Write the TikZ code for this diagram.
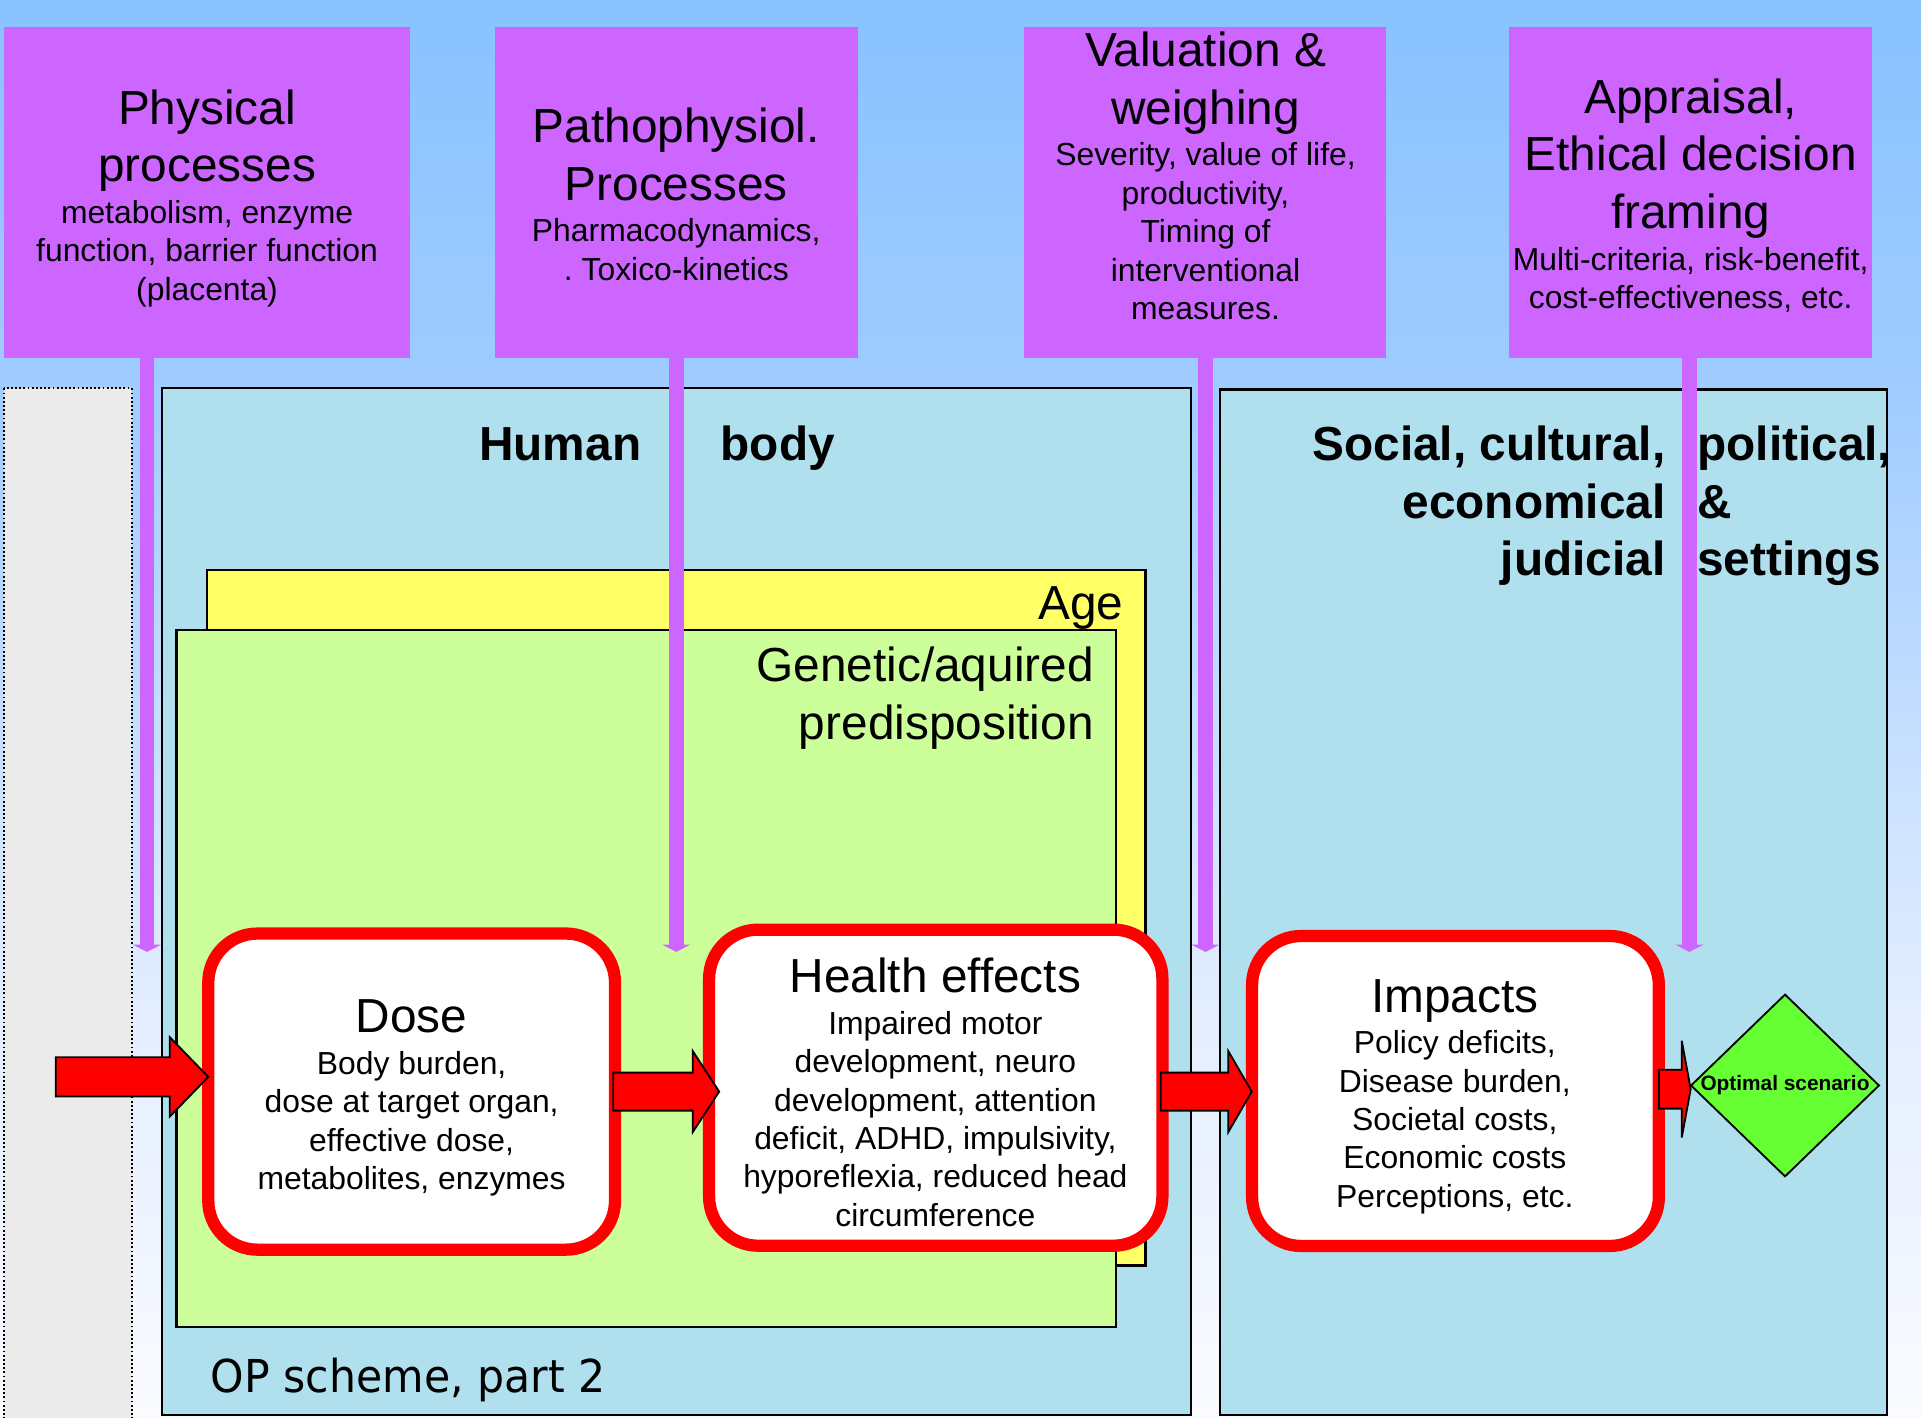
\documentclass[tikz,border=0pt]{standalone}
\usepackage{fontspec}
\setmainfont{Liberation Sans}
\newfontfamily\opfont[FakeStretch=0.94]{DejaVu Sans}
\usetikzlibrary{arrows.meta,shapes.geometric}

\definecolor{bgA}{RGB}{136,194,255}
\definecolor{bgB}{RGB}{160,204,255}
\definecolor{bgC}{RGB}{226,237,255}
\definecolor{bgD}{RGB}{250,251,255}
\definecolor{purp}{RGB}{204,102,255}
\definecolor{skyfill}{RGB}{176,224,238}
\definecolor{agefill}{RGB}{255,255,102}
\definecolor{genfill}{RGB}{204,255,153}
\definecolor{sidegray}{RGB}{235,235,235}
\definecolor{optgreen}{RGB}{102,255,51}

% large and small text, with fixed natural word spaces of the font in use
\newcommand\titlef{\fontsize{39}{47}\selectfont\spaceskip=\fontdimen2\font\xspaceskip=\fontdimen2\font\relax}
\newcommand\bodyf{\fontsize{26}{31.3}\selectfont\spaceskip=\fontdimen2\font\xspaceskip=\fontdimen2\font\relax}
% block arrow: left x, head base x, tip x, centre y, shaft half height, head half height
\newcommand\redarrow[6]{%
  \draw[redblk] (#1,#4-#5) -- (#2,#4-#5) -- (#2,#4-#6) -- (#3,#4)
    -- (#2,#4+#6) -- (#2,#4+#5) -- (#1,#4+#5) -- cycle;}

\tikzset{
  region/.style={draw=black, line width=1.8pt},
  pbox/.style={fill=purp, inner sep=0, minimum height=270pt},
  ptext/.style={inner sep=0, text width=330pt, align=center, anchor=north},
  pline/.style={draw=purp, line width=12pt,
    -{Triangle[width=23pt,length=6pt,line width=0pt]}},
  rbox/.style={draw=red, line width=10pt, fill=white, rounded corners=40pt,
    inner sep=0},
  redblk/.style={fill=red, draw=black, line width=1.5pt, line join=miter},
}

\begin{document}
\begin{tikzpicture}[x=1pt,y=-1pt]
\useasboundingbox (0,0) rectangle (1568,1157);
\clip (0,0) rectangle (1568,1157);

% sky background
\shade[top color=bgA, bottom color=bgB] (0,-1) rectangle (1568,319);
\shade[top color=bgB, bottom color=bgC] (0,318) rectangle (1568,817);
\shade[top color=bgC, bottom color=bgD] (0,816) rectangle (1568,1158);

% side panel and the two settings
\draw[fill=sidegray, line width=1.5pt, dash pattern=on 1.5pt off 1.9pt]
  (3,317) rectangle (107.5,1175);
\draw[region, fill=skyfill] (132,317) rectangle (972,1155);
\draw[region, fill=skyfill] (996,318) rectangle (1540,1155);

% age and predisposition layers
\draw[region, fill=agefill] (169,465) rectangle (935,1033);
\draw[region, fill=genfill] (144,514) rectangle (911,1083);

\node[anchor=base west, inner sep=0] (humanbody) at (391,376)
  {\titlef\bfseries Human\hspace{65pt}body};
\node[anchor=base west, inner sep=0] (settings) at (1071,376)
  {\titlef\bfseries\begin{tabular}[t]{@{}r@{\hspace{26pt}}l@{}}
    Social, cultural, & political,\\
    economical & \&\\
    judicial & settings
  \end{tabular}};
\node[anchor=base east, inner sep=0, font=\titlef] (age) at (917,506) {Age};
\node[anchor=north east, inner sep=0, align=right, font=\titlef] (genetic)
  at (893,528) {Genetic/aquired\\predisposition};

% process boxes along the top
\node[pbox, minimum width=332pt] (p1) at (169,157) {};
\node[pbox, minimum width=296pt] (p2) at (552,157) {};
\node[pbox, minimum width=295pt] (p3) at (983.5,157) {};
\node[pbox, minimum width=296pt] (p4) at (1380,157) {};

\node[ptext] (p1t) at (169,73)
  {{\titlef Physical\\processes\par}\vspace{2.7pt}%
   {\bodyf metabolism, enzyme\\function, barrier function\\(placenta)\par}};
\node[ptext] (p2t) at (552,88)
  {{\titlef Pathophysiol.\\Processes\par}\vspace{2.7pt}%
   {\bodyf Pharmacodynamics,\\. Toxico-kinetics\par}};
\node[ptext] (p3t) at (984,26)
  {{\titlef Valuation \&\\weighing\par}\vspace{2.7pt}%
   {\bodyf Severity, value of life,\\productivity,\\Timing of\\interventional\\measures.\par}};
\node[ptext] (p4t) at (1380,64)
  {{\titlef Appraisal,\\Ethical decision\\framing\par}\vspace{2.7pt}%
   {\bodyf Multi-criteria, risk-benefit,\\cost-effectiveness, etc.\par}};

% stems from the process boxes down to the chain
\coordinate (s1) at (120,777);
\coordinate (s2) at (552,777);
\coordinate (s3) at (984,777);
\coordinate (s4) at (1379,777);
\draw[pline] (s1 |- p1.south) -- (s1);
\draw[pline] (s2 |- p2.south) -- (s2);
\draw[pline] (s3 |- p3.south) -- (s3);
\draw[pline] (s4 |- p4.south) -- (s4);

% chain of stages
\node[rbox, minimum width=332pt, minimum height=258pt] (dose) at (336,891) {};
\node[rbox, minimum width=370pt, minimum height=258pt] (health) at (763.8,887.8) {};
\node[rbox, minimum width=332pt, minimum height=253pt] (impacts) at (1188,890.5) {};

\node[ptext] (doset) at (336,816)
  {{\titlef Dose\par}\vspace{2.7pt}%
   {\bodyf Body burden,\\dose at target organ,\\effective dose,\\metabolites, enzymes\par}};
\node[ptext, text width=360pt] (healtht) at (763.5,782)
  {{\titlef Health effects\par}\vspace{2.7pt}%
   {\bodyf Impaired motor\\development, neuro\\development, attention\\deficit, ADHD, impulsivity,\\hyporeflexia, reduced head\\circumference\par}};
\node[ptext] (impactst) at (1187.5,799)
  {{\titlef Impacts\par}\vspace{2.7pt}%
   {\bodyf Policy deficits,\\Disease burden,\\Societal costs,\\Economic costs\\Perceptions, etc.\par}};

\node[diamond, draw=black, line width=1.5pt, fill=optgreen, inner sep=0,
  minimum width=154pt, minimum height=149pt] (opt) at (1457,886) {};
\node[inner sep=0] (optt) at (opt.center)
  {\fontsize{17}{20}\selectfont\bfseries Optimal scenario};

% flow arrows
\redarrow{45.5}{138.5}{170}{879}{16}{32.5}
\redarrow{500.5}{565.5}{587}{891}{15.5}{33}
\redarrow{947.4}{1002.6}{1021.7}{891}{15.5}{33}
\redarrow{1354}{1372.7}{1380}{889}{15.9}{39.5}

\node[anchor=base west, inner sep=0] (oplabel) at (172,1137)
  {\opfont\fontsize{37}{44}\selectfont OP scheme, part 2};
\end{tikzpicture}
\end{document}
